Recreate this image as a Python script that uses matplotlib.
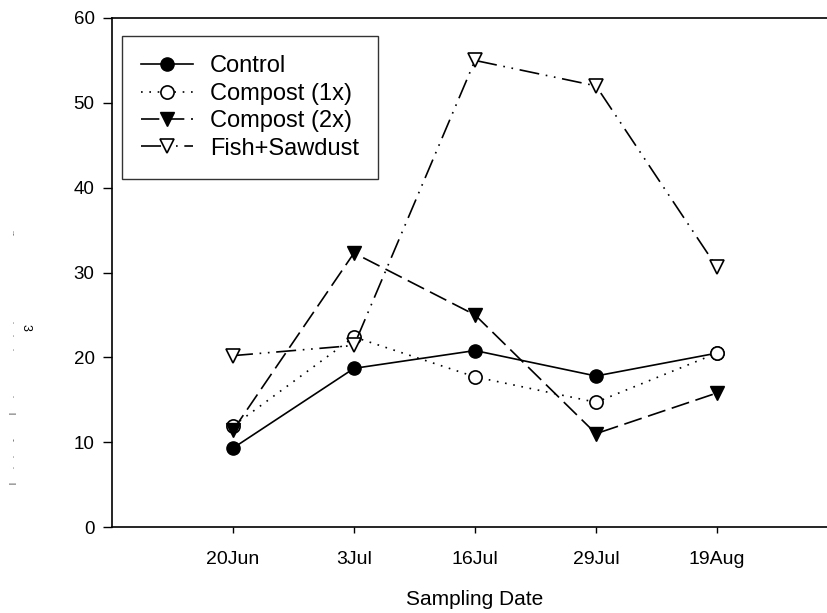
import matplotlib
matplotlib.use("Agg")
import matplotlib.pyplot as plt

plt.rcParams['font.family'] = ['Liberation Sans', 'DejaVu Sans']

dates = ["20Jun", "3Jul", "16Jul", "29Jul", "19Aug"]
control = [9.3, 18.7, 20.8, 17.8, 20.5]
compost1 = [11.9, 22.4, 17.7, 14.7, 20.5]
compost2 = [11.4, 32.3, 25.0, 11.0, 15.8]
fish = [20.2, 21.4, 55.0, 52.0, 30.6]
yticks = [0, 10, 20, 30, 40, 50, 60]

W, H = 827, 613
fig = plt.figure(figsize=(W / 100, H / 100), dpi=100)
L, R, T, B = 112, 838, 18, 527
ax = fig.add_axes([L / W, 1 - B / H, (R - L) / W, (B - T) / H])

x = list(range(1, len(dates) + 1))
ms = 9.5
lw = 1.2
ax.plot(x, control, color='black', lw=lw, ls='-', marker='o', ms=ms,
        mfc='black', mec='black', label='Control', zorder=3)
ax.plot(x, compost1, color='black', lw=lw, ls=(0, (1, 4)), marker='o', ms=ms,
        mfc='white', mec='black', mew=1.2, label='Compost (1x)', zorder=3)
ax.plot(x, compost2, color='black', lw=lw, ls=(0, (11, 4)), marker='v', ms=ms,
        mfc='black', mec='black', label='Compost (2x)', zorder=3)
ax.plot(x, fish, color='black', lw=lw, ls=(0, (12, 4, 1, 4, 1, 4)), marker='v', ms=ms,
        mfc='white', mec='black', mew=1.2, label='Fish+Sawdust', zorder=3)

ax.set_xlim(0, 6)
ax.set_ylim(0, 60)
ax.set_xticks(x)
ax.set_xticklabels(dates)
ax.set_yticks(yticks)
ax.tick_params(axis='y', direction='out', length=6.5, width=1, labelsize=13.5, pad=6)
ax.tick_params(axis='x', direction='out', length=4, width=1, labelsize=14, pad=13)
for s in ax.spines.values():
    s.set_linewidth(1.2)

ax.set_xlabel("Sampling Date", fontsize=15, labelpad=16)

leg = ax.legend(loc='upper left', bbox_to_anchor=((122 - L) / (R - L), 1 - (36 - T) / (B - T)),
                borderaxespad=0, fontsize=17, frameon=True, fancybox=False,
                handlelength=2.2, handletextpad=0.7, labelspacing=0.23,
                borderpad=0.82)
leg.get_frame().set_edgecolor('black')
leg.get_frame().set_linewidth(1.0)

# garbled y-axis label fragments
marks = [(232, '...'), (322, '.'), (335, '.'), (349, '.'),
         (396, '.'), (413, '|'), (439, '..'), (456, '.'), (467, '.'), (483, '|')]
for yy, ch in marks:
    fig.text(13 / W, 1 - yy / H, ch, fontsize=5, rotation=90, ha='center', va='center')
fig.text(26 / W, 1 - 327 / H, '3', fontsize=9, rotation=-90, ha='center', va='center')

fig.savefig("out.png", dpi=100)
